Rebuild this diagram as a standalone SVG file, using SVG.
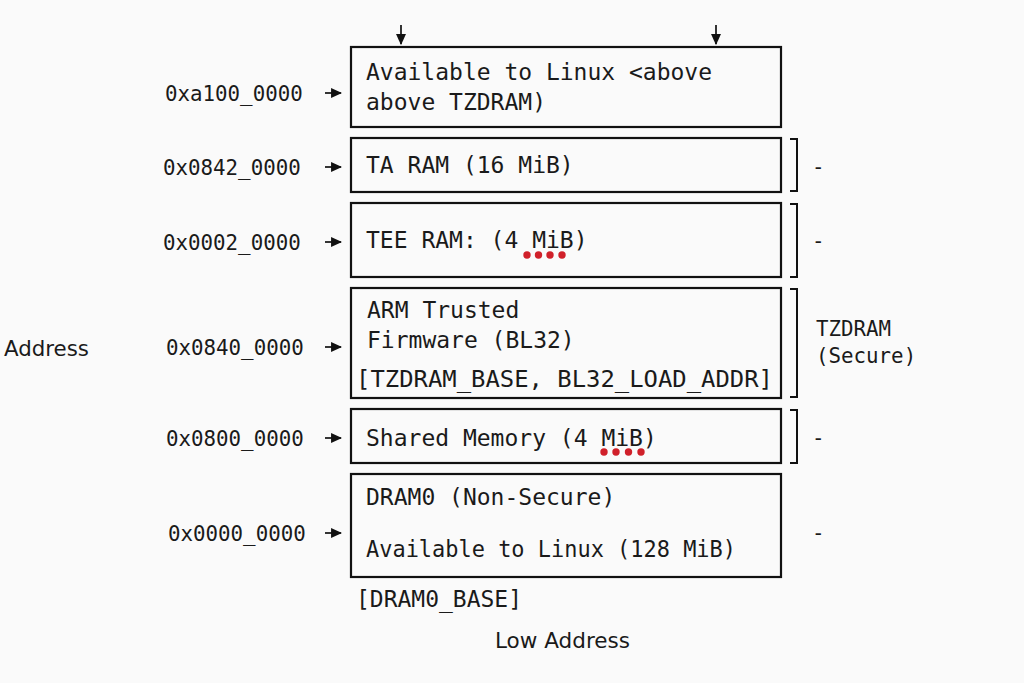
<svg xmlns="http://www.w3.org/2000/svg" width="1024" height="683" viewBox="0 0 1024 683">
<defs>
<style>
.box{fill:none;stroke:#111;stroke-width:2.2}
.mono{font-family:"DejaVu Sans Mono","Liberation Mono",monospace;fill:#1a1a1a}
.t{font-size:23px}
.lbl{font-size:20.8px}
.sans{font-family:"DejaVu Sans","Liberation Sans",sans-serif;fill:#1a1a1a;font-size:21px}
.ln{stroke:#111;stroke-width:1.7;fill:none}
.br{stroke:#111;stroke-width:2;fill:none}
.dot{fill:#d0202a}
</style>
<marker id="ah" viewBox="0 0 10 10" refX="9" refY="5" markerWidth="5.5" markerHeight="5.5" orient="auto">
<path d="M0,0 L10,5 L0,10 z" fill="#111"/>
</marker>
<marker id="ah2" viewBox="0 0 10 10" refX="9" refY="5" markerWidth="6.5" markerHeight="6.5" orient="auto">
<path d="M0,0.5 L10,5 L0,9.5 z" fill="#111"/>
</marker>
</defs>
<rect width="1024" height="683" fill="#fafafa"/>

<g id="connectors">
<line class="ln" x1="401" y1="25" x2="401" y2="44" marker-end="url(#ah2)"/>
<line class="ln" x1="716" y1="25" x2="716" y2="44" marker-end="url(#ah2)"/>
<line class="ln" x1="325" y1="93" x2="341" y2="93" marker-end="url(#ah2)"/>
<line class="ln" x1="325" y1="167" x2="341" y2="167" marker-end="url(#ah2)"/>
<line class="ln" x1="325" y1="242" x2="341" y2="242" marker-end="url(#ah2)"/>
<line class="ln" x1="325" y1="347" x2="341" y2="347" marker-end="url(#ah2)"/>
<line class="ln" x1="325" y1="438" x2="341" y2="438" marker-end="url(#ah2)"/>
<line class="ln" x1="325" y1="533" x2="341" y2="533" marker-end="url(#ah2)"/>
</g>

<g id="brackets">
<path class="br" d="M790,139 H797 V191 H790"/>
<path class="br" d="M790,204 H797 V277 H790"/>
<path class="br" d="M790,289 H797 V397 H790"/>
<path class="br" d="M790,410 H797 V463 H790"/>
</g>

<g id="axis-labels">
<text class="sans" x="4" y="356" textLength="85" lengthAdjust="spacingAndGlyphs">Address</text>
<text class="sans" x="495" y="648" textLength="135" lengthAdjust="spacingAndGlyphs">Low Address</text>
</g>

<g id="addr-labels" class="mono lbl">
<text x="165" y="101">0xa100_0000</text>
<text x="163" y="175">0x0842_0000</text>
<text x="163" y="250">0x0002_0000</text>
<text x="166" y="355">0x0840_0000</text>
<text x="166" y="446">0x0800_0000</text>
<text x="168" y="541">0x0000_0000</text>
</g>

<g id="node-linux-high">
<rect class="box" x="351" y="47" width="430" height="80"/>
<text class="mono t" x="366" y="80" textLength="346" lengthAdjust="spacingAndGlyphs">Available to Linux &lt;above</text>
<text class="mono t" x="366" y="110">above TZDRAM)</text>
</g>

<g id="node-ta-ram">
<rect class="box" x="351" y="138" width="430" height="54"/>
<text class="mono t" x="366" y="173">TA RAM (16 MiB)</text>
<text class="mono lbl" x="812" y="174">-</text>
</g>

<g id="node-tee-ram">
<rect class="box" x="351" y="203" width="430" height="74"/>
<text class="mono t" x="366" y="248">TEE RAM: (4 MiB)</text>
<circle class="dot" cx="527" cy="255" r="3.7"/>
<circle class="dot" cx="538.5" cy="255" r="3.7"/>
<circle class="dot" cx="550" cy="255" r="3.7"/>
<circle class="dot" cx="562" cy="255" r="3.7"/>
<text class="mono lbl" x="812" y="248">-</text>
</g>

<g id="node-atf">
<rect class="box" x="351" y="288" width="430" height="110"/>
<text class="mono t" x="367" y="318">ARM Trusted</text>
<text class="mono t" x="367" y="348">Firmware (BL32)</text>
<text class="mono t" x="356" y="387" textLength="417" lengthAdjust="spacingAndGlyphs">[TZDRAM_BASE, BL32_LOAD_ADDR]</text>
<text class="mono lbl" x="816" y="336">TZDRAM</text>
<text class="mono lbl" x="816" y="363">(Secure)</text>
</g>

<g id="node-shared">
<rect class="box" x="351" y="409" width="430" height="54"/>
<text class="mono t" x="366" y="446">Shared Memory (4 MiB)</text>
<circle class="dot" cx="604" cy="452" r="3.7"/>
<circle class="dot" cx="616" cy="452" r="3.7"/>
<circle class="dot" cx="628.5" cy="452" r="3.7"/>
<circle class="dot" cx="641" cy="452" r="3.7"/>
<text class="mono lbl" x="812" y="445">-</text>
</g>

<g id="node-dram0">
<rect class="box" x="351" y="474" width="430" height="103"/>
<text class="mono t" x="366" y="505">DRAM0 (Non-Secure)</text>
<text class="mono t" x="366" y="557" textLength="370" lengthAdjust="spacingAndGlyphs">Available to Linux (128 MiB)</text>
<text class="mono t" x="356" y="607" textLength="166" lengthAdjust="spacingAndGlyphs">[DRAM0_BASE]</text>
<text class="mono lbl" x="812" y="540">-</text>
</g>
</svg>
